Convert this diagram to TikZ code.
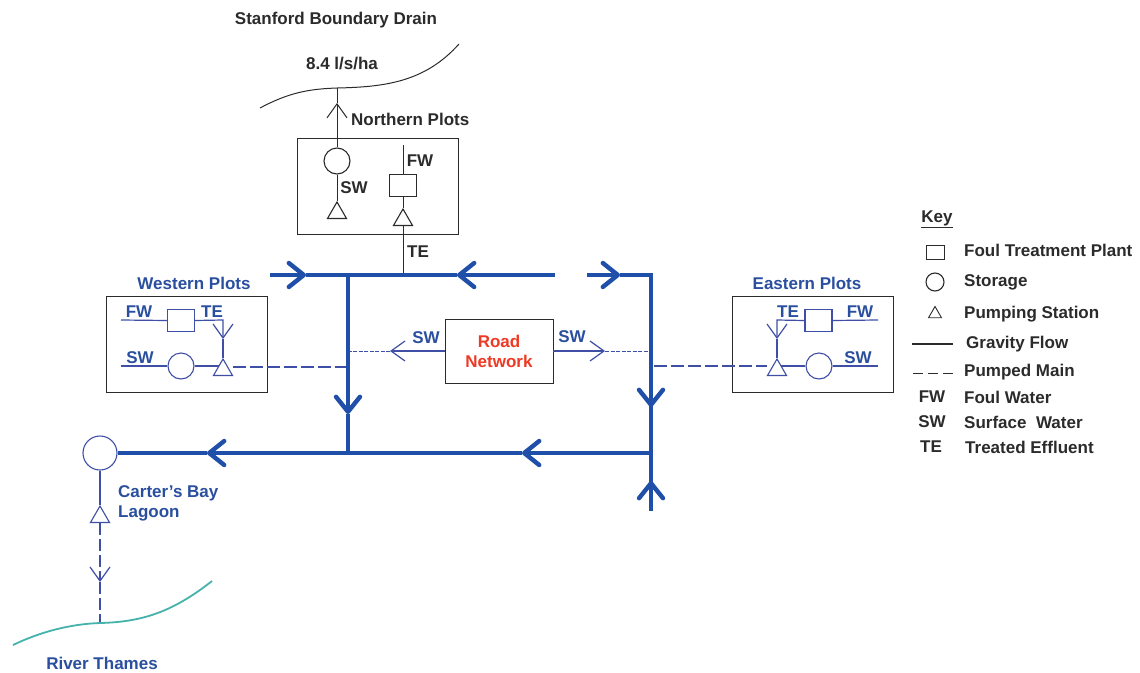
\documentclass[tikz,border=0pt]{standalone}
\usepackage{fontspec}
\setmainfont{Liberation Sans}
\usetikzlibrary{arrows.meta,shapes.geometric}
\definecolor{mainblue}{HTML}{1F4FA8}
\definecolor{thinblue}{HTML}{3F4FA6}
\definecolor{txtblue}{HTML}{2A4F9F}
\definecolor{dark}{HTML}{2B2B2B}
\definecolor{roadred}{HTML}{EE3A24}
\definecolor{river}{HTML}{45B3AC}
\tikzset{
  lbl/.style={font=\bfseries\fontsize{17}{20}\selectfont,text=dark,inner sep=0pt},
  blbl/.style={lbl,text=txtblue},
  main/.style={draw=mainblue,line width=4.4pt},
  mainarr/.style={main,-{Straight Barb[length=15pt,width=24pt,round]}},
  thin/.style={draw=dark,line width=1pt},
  thinarr/.style={thin,-{Straight Barb[length=14pt,width=20pt]}},
  bthin/.style={draw=thinblue,line width=1.2pt},
  bthinarr/.style={bthin,-{Straight Barb[length=14pt,width=20pt]}},
  pumped/.style={bthin,dash pattern=on 13pt off 4pt},
  fine/.style={bthin,line width=0.9pt,dash pattern=on 4pt off 1.5pt},
  plotbox/.style={draw=dark,line width=0.85pt,fill=white,inner sep=0pt},
  sq/.style={draw=#1,line width=1.1pt,fill=white,minimum width=27pt,minimum height=22pt,inner sep=0pt},
  circ/.style={circle,draw=#1,line width=1.1pt,fill=white,minimum size=26pt,inner sep=0pt},
  tri/.style={regular polygon,regular polygon sides=3,draw=#1,line width=1.1pt,fill=white,minimum size=22pt,inner sep=0pt},
}
\begin{document}
\begin{tikzpicture}[x=1pt,y=-1pt]
\useasboundingbox (0,0) rectangle (1140,672);
\fill[white] (0,0) rectangle (1140,672);

% Plot boxes
\node[plotbox,minimum width=161pt,minimum height=96pt] (nbox) at (377.5,186) {};
\node[plotbox,minimum width=161pt,minimum height=96pt] (wbox) at (186.5,344) {};
\node[plotbox,minimum width=161pt,minimum height=96pt] (ebox) at (812.5,344) {};
\node[plotbox,minimum width=108pt,minimum height=64pt,align=center,font=\bfseries\fontsize{17}{20}\selectfont,text=roadred] (road) at (499,351) {Road\\Network};

% Stanford Boundary Drain
\draw[thin] (260,108) coordinate (d0) .. controls (290,92) and (310,89) .. (337,88) coordinate (d1)
  .. controls (385,87) and (425,82) .. (459,44) coordinate (d2);
\node[lbl] (sbd) at (336,20) {Stanford Boundary Drain};
\node[lbl] (rate) at (342,64) {8.4 l/s/ha};
\node[lbl,anchor=west] (npl) at (351,119) {Northern Plots};

% Northern plots
\node[circ=dark] (nc) at (337,161) {};
\coordinate (napex) at (337,103);
\draw[thinarr] (nc.north) -- (napex);
\draw[thin] (napex) -- (d1);
\node[tri=dark] (nt1) at (337,213) {};
\draw[thin] (nc.south) -- (nt1.corner 1);
\node[sq=dark] (ns) at (403,185.5) {};
\coordinate (nf) at (403,145);
\draw[thin] (nf) -- (ns.north);
\node[tri=dark] (nt2) at (403,220) {};
\draw[thin] (ns.south) -- (nt2.corner 1);
\node[lbl] (nsw) at (354,188) {SW};
\node[lbl] (nfw) at (420,161) {FW};
\node[lbl] (nte) at (418,252) {TE};

% Main network
\coordinate (m0) at (270,275);
\coordinate (ma1) at (306,275);
\coordinate (mj1) at (348,275);
\coordinate (mjt) at (403,275);
\coordinate (ma2) at (457,275);
\coordinate (m1) at (555,275);
\coordinate (r0) at (587,275);
\coordinate (ra) at (620,275);
\coordinate (rc) at (651,275);
\coordinate (ra2) at (651,407);
\coordinate (b1) at (651,453);
\coordinate (ba2) at (651,481);
\coordinate (rend) at (651,511);
\coordinate (wa) at (348,414);
\coordinate (wj) at (348,453);
\coordinate (ba1) at (522,453);
\coordinate (ba0) at (207,453);
\node[circ=thinblue,minimum size=34pt] (lag) at (100,453) {};
\draw[thin] (nt2.side 2) -- (mjt);
\draw[mainarr] (m0) -- (ma1);
\draw[main] (ma1) -- (mj1);
\draw[mainarr] (m1) -- (ma2);
\draw[main] (ma2) -- (mj1);
\draw[mainarr] (mj1) -- (wa);
\draw[main] (wa) -- (wj);
\draw[mainarr] (r0) -- (ra);
\draw[main,line join=miter] (ra) -- (rc) -- (ra2);
\draw[mainarr] (rc) -- (ra2);
\draw[main] (ra2) -- (rend);
\draw[mainarr] (rend) -- (ba2);
\draw[mainarr] (b1) -- (ba1);
\draw[main] (ba1) -- (wj);
\draw[mainarr] (wj) -- (ba0);
\draw[main] (ba0) -- (lag.east);

% Road network outflows
\coordinate (rl) at (390,351);
\coordinate (rr) at (605,351);
\coordinate (rlj) at (350,351);
\coordinate (rrj) at (648,351);
\draw[bthinarr] (road.west) -- (rl);
\draw[fine] (rl) -- (rlj);
\draw[bthinarr] (road.east) -- (rr);
\draw[fine] (rr) -- (rrj);
\node[blbl] (rsw1) at (426,338) {SW};
\node[blbl] (rsw2) at (572,337) {SW};

% Western plots
\node[blbl] (wpl) at (194,283) {Western Plots};
\coordinate (wf0) at (121,320);
\coordinate (ws0) at (121,366);
\coordinate (wk) at (223,320);
\coordinate (wta) at (223,339);
\coordinate (wtl) at (223,366);
\node[sq=thinblue] (wsq) at (181,320.5) {};
\node[circ=thinblue] (wci) at (181,366) {};
\draw[bthin] (wf0) -- (wsq.west);
\draw[bthin] (ws0) -- (wci.west);
\draw[bthin] (wci.east) -- (wtl);
\draw[bthinarr] (wsq.east) -- (wk) -- (wta);
\node[tri=thinblue] (wtr) at (223,370) {};
\draw[bthin] (wta) -- (wtr.corner 1);
\coordinate (wp) at (346,367);
\draw[pumped] (wtr.corner 3 |- wp) -- (wp);
\node[blbl] (wfw) at (139,312) {FW};
\node[blbl] (wte) at (212,312) {TE};
\node[blbl] (wsw) at (140,358) {SW};

% Eastern plots
\node[blbl] (epl) at (807,283) {Eastern Plots};
\coordinate (ef0) at (878,320);
\coordinate (es0) at (878,366);
\coordinate (ek) at (777,320);
\coordinate (eta) at (777,339);
\coordinate (etl) at (777,366);
\node[sq=thinblue] (esq) at (818.5,320.5) {};
\node[circ=thinblue] (eci) at (819,366) {};
\draw[bthin] (ef0) -- (esq.east);
\draw[bthin] (es0) -- (eci.east);
\draw[bthin] (eci.west) -- (etl);
\draw[bthinarr] (esq.west) -- (ek) -- (eta);
\node[tri=thinblue] (etr) at (777,370) {};
\draw[bthin] (eta) -- (etr.corner 1);
\coordinate (ep) at (654,366);
\draw[pumped] (ep) -- (etr.corner 2 |- ep);
\node[blbl] (ete) at (788,312) {TE};
\node[blbl] (efw) at (860,312) {FW};
\node[blbl] (esw) at (858,358) {SW};

% Lagoon and river
\node[tri=thinblue] (ltr) at (100,517) {};
\draw[bthin] (lag.south) -- (ltr.corner 1);
\coordinate (la) at (100,582);
\coordinate (lr) at (100,623);
\draw[bthin,-{Straight Barb[length=14pt,width=20pt]},dash pattern=on 12pt off 4pt] (ltr.side 2) -- (la);
\draw[bthin,dash pattern=on 12pt off 4pt] (la) -- (lr);
\draw[draw=river,line width=1.8pt] (13,645) .. controls (40,632) and (70,624) .. (lr)
  .. controls (145,622) and (175,610) .. (212,581);
\node[blbl,anchor=west,align=left] (cbl) at (118,503) {Carter's Bay\\Lagoon};
\node[blbl] (thames) at (102,663) {River Thames};

% Key
\node[lbl] (key) at (937,219) {\underline{Key}};
\node[sq=dark,minimum width=18pt,minimum height=14pt,line width=0.9pt] (ksq) at (935,252) {};
\node[circ=dark,minimum size=18pt] (kci) at (935,282) {};
\node[tri=dark,minimum size=15pt,line width=0.9pt] (ktr) at (935,314) {};
\coordinate (kg0) at (912,344);
\coordinate (kg1) at (953,344);
\coordinate (kp0) at (913,373);
\coordinate (kp1) at (953,373);
\draw[draw=dark,line width=1.2pt] (kg0) -- (kg1);
\draw[draw=dark,line width=1pt,dash pattern=on 10pt off 5pt] (kp0) -- (kp1);
\node[lbl,anchor=west] (k1) at (964,250) {Foul Treatment Plant};
\node[lbl,anchor=west] (k2) at (964,282) {Storage};
\node[lbl,anchor=west] (k3) at (964,314) {Pumping Station};
\node[lbl,anchor=west] (k4) at (966,344) {Gravity Flow};
\node[lbl,anchor=west] (k5) at (964,372) {Pumped Main};
\node[lbl,anchor=west] (k6) at (964,397) {Foul Water};
\node[lbl,anchor=west] (k7) at (964,422) {Surface\ \ Water};
\node[lbl,anchor=west] (k8) at (965,447) {Treated Effluent};
\node[lbl] (kfw) at (932,397) {FW};
\node[lbl] (ksw) at (932,422) {SW};
\node[lbl] (kte) at (931,447) {TE};
\end{tikzpicture}
\end{document}
